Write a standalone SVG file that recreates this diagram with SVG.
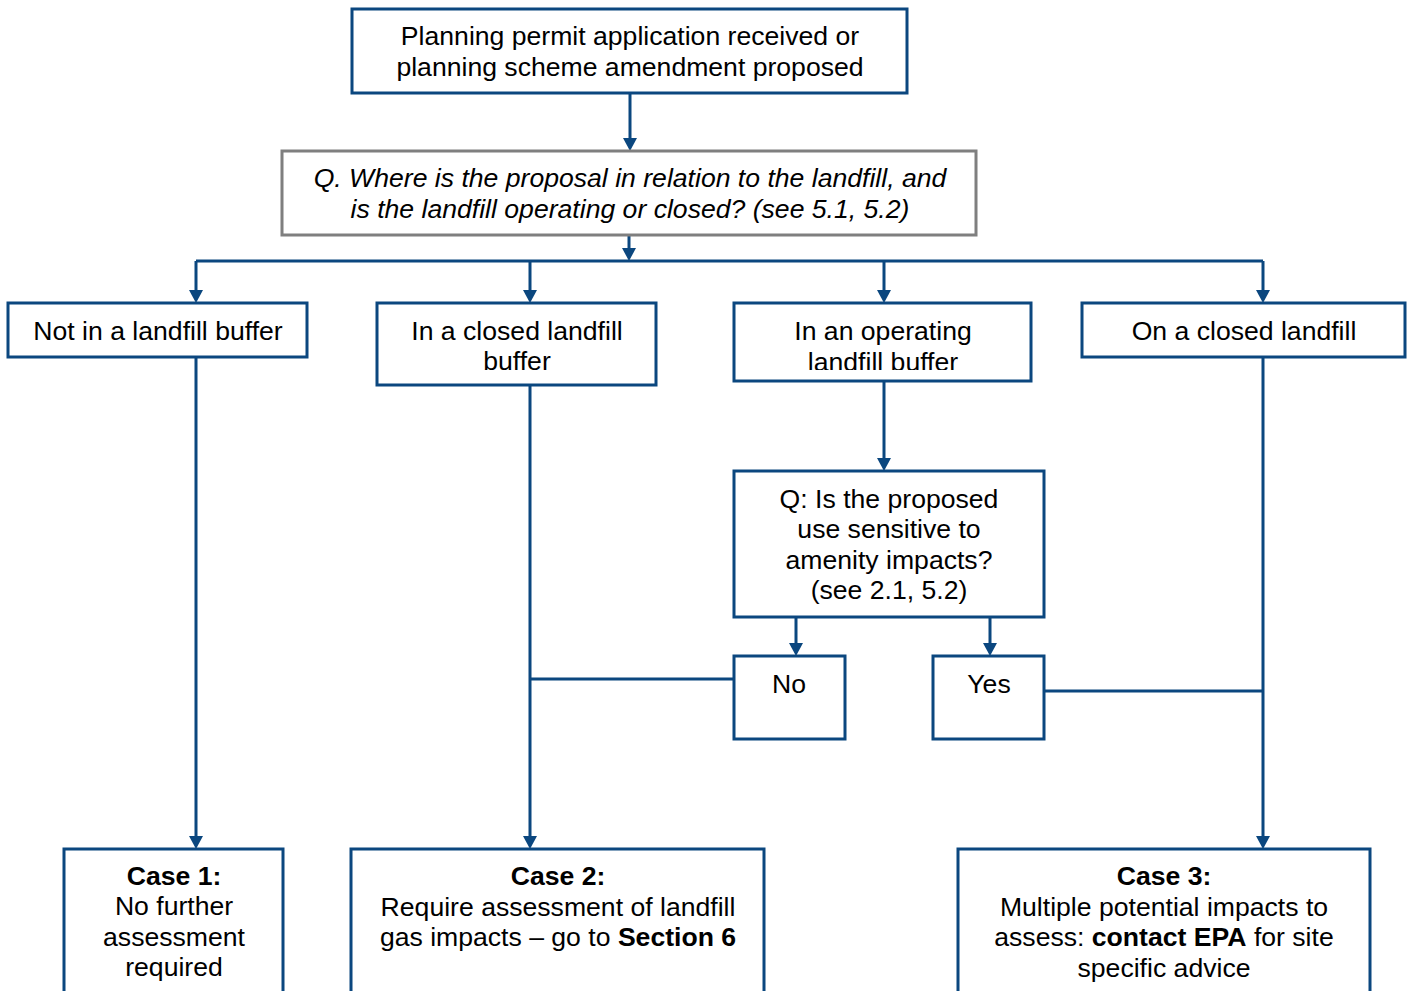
<svg xmlns="http://www.w3.org/2000/svg" width="1414" height="991" viewBox="0 0 1414 991">
<style>
.box{fill:#fff;stroke:#0B477F;stroke-width:3}
.gbox{fill:#fff;stroke:#7F7F7F;stroke-width:3}
.con{fill:none;stroke:#0B477F;stroke-width:3}
.ah{fill:#0B477F}
text{font-family:"Liberation Sans",Arial,sans-serif;font-size:26.6px;fill:#000;text-anchor:middle}
.it{font-style:italic}
.b{font-weight:bold}
</style>
<defs>
<clipPath id="clipOp"><rect x="736" y="305" width="294" height="65"/></clipPath>
</defs>
<g id="connectors">
<line class="con" x1="630" y1="93" x2="630" y2="140"/>
<path class="ah" d="M623,138 L637,138 L630,151 Z"/>
<line class="con" x1="629" y1="235" x2="629" y2="250"/>
<path class="ah" d="M622,248 L636,248 L629,261 Z"/>
<line class="con" x1="196" y1="261" x2="1263" y2="261"/>
<line class="con" x1="196" y1="261" x2="196" y2="292"/>
<path class="ah" d="M189,290 L203,290 L196,303 Z"/>
<line class="con" x1="530" y1="261" x2="530" y2="292"/>
<path class="ah" d="M523,290 L537,290 L530,303 Z"/>
<line class="con" x1="884" y1="261" x2="884" y2="292"/>
<path class="ah" d="M877,290 L891,290 L884,303 Z"/>
<line class="con" x1="1263" y1="261" x2="1263" y2="292"/>
<path class="ah" d="M1256,290 L1270,290 L1263,303 Z"/>
<line class="con" x1="884" y1="381" x2="884" y2="460"/>
<path class="ah" d="M877,458 L891,458 L884,471 Z"/>
<line class="con" x1="796" y1="617" x2="796" y2="645"/>
<path class="ah" d="M789,643 L803,643 L796,656 Z"/>
<line class="con" x1="990" y1="617" x2="990" y2="645"/>
<path class="ah" d="M983,643 L997,643 L990,656 Z"/>
<line class="con" x1="196" y1="357" x2="196" y2="838"/>
<path class="ah" d="M189,836 L203,836 L196,849 Z"/>
<line class="con" x1="530" y1="385" x2="530" y2="838"/>
<path class="ah" d="M523,836 L537,836 L530,849 Z"/>
<line class="con" x1="1263" y1="357" x2="1263" y2="838"/>
<path class="ah" d="M1256,836 L1270,836 L1263,849 Z"/>
<line class="con" x1="734" y1="679" x2="530" y2="679"/>
<line class="con" x1="1044" y1="691" x2="1263" y2="691"/>
</g>
<g id="start">
<rect class="box" x="352" y="9" width="555" height="84"/>
<text x="630" y="45">Planning permit application received or</text>
<text x="630" y="76">planning scheme amendment proposed</text>
</g>
<g id="q1">
<rect class="gbox" x="282" y="151" width="694" height="84"/>
<text class="it" x="630" y="187">Q. Where is the proposal in relation to the landfill, and</text>
<text class="it" x="630" y="218">is the landfill operating or closed? (see 5.1, 5.2)</text>
</g>
<g id="not-buffer">
<rect class="box" x="8" y="303" width="299" height="54"/>
<text x="158" y="340">Not in a landfill buffer</text>
</g>
<g id="closed-buffer">
<rect class="box" x="377" y="303" width="279" height="82"/>
<text x="517" y="340">In a closed landfill</text>
<text x="517" y="370">buffer</text>
</g>
<g id="operating-buffer">
<rect class="box" x="734" y="303" width="297" height="78"/>
<g clip-path="url(#clipOp)">
<text x="883" y="340">In an operating</text>
<text x="883" y="371">landfill buffer</text>
</g>
</g>
<g id="on-closed">
<rect class="box" x="1082" y="303" width="323" height="54"/>
<text x="1244" y="340">On a closed landfill</text>
</g>
<g id="q2">
<rect class="box" x="734" y="471" width="310" height="146"/>
<text x="889" y="508">Q: Is the proposed</text>
<text x="889" y="538">use sensitive to</text>
<text x="889" y="569">amenity impacts?</text>
<text x="889" y="599">(see 2.1, 5.2)</text>
</g>
<g id="no">
<rect class="box" x="734" y="656" width="111" height="83"/>
<text x="789" y="693">No</text>
</g>
<g id="yes">
<rect class="box" x="933" y="656" width="111" height="83"/>
<text x="989" y="693">Yes</text>
</g>
<g id="case1">
<rect class="box" x="64" y="849" width="219" height="160"/>
<text class="b" x="174" y="885">Case 1:</text>
<text x="174" y="915">No further</text>
<text x="174" y="946">assessment</text>
<text x="174" y="976">required</text>
</g>
<g id="case2">
<rect class="box" x="351" y="849" width="413" height="160"/>
<text class="b" x="558" y="885">Case 2:</text>
<text x="558" y="916">Require assessment of landfill</text>
<text x="558" y="946">gas impacts – go to <tspan class="b">Section 6</tspan></text>
</g>
<g id="case3">
<rect class="box" x="958" y="849" width="412" height="160"/>
<text class="b" x="1164" y="885">Case 3:</text>
<text x="1164" y="916">Multiple potential impacts to</text>
<text x="1164" y="946">assess: <tspan class="b">contact EPA</tspan> for site</text>
<text x="1164" y="977">specific advice</text>
</g>
</svg>
